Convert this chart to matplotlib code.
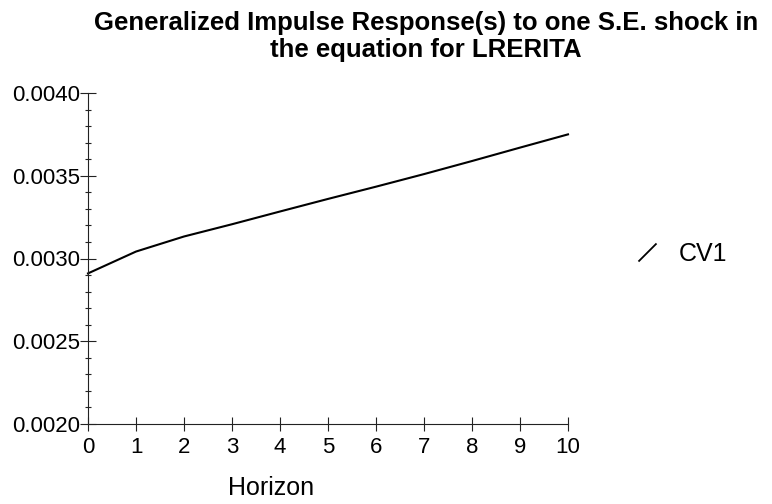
import matplotlib
matplotlib.use("Agg")
import matplotlib.pyplot as plt
from matplotlib.lines import Line2D
from matplotlib.ticker import MultipleLocator, FormatStrFormatter

# --- data ---
horizon = [0, 1, 2, 3, 4, 5, 6, 7, 8, 9, 10]
cv1 = [0.00291, 0.003042, 0.003133, 0.003207, 0.003284, 0.00336,
       0.003434, 0.00351, 0.003589, 0.00367, 0.00375]
series_name = "CV1"
title_text = "Generalized Impulse Response(s) to one S.E. shock in\nthe equation for LRERITA"
x_label = "Horizon"

plt.rcParams['font.family'] = ['Liberation Sans', 'DejaVu Sans']

W, H = 772, 504
fig = plt.figure(figsize=(W / 100, H / 100), dpi=100)
ax = fig.add_axes([88 / W, 80 / H, 480 / W, 331 / H])

ax.plot(horizon, cv1, color='black', lw=1.5, clip_on=False)

ax.set_xlim(0, 10)
ax.set_ylim(0.0020, 0.0040)
ax.xaxis.set_major_locator(MultipleLocator(1))
ax.yaxis.set_major_locator(MultipleLocator(0.0005))
ax.yaxis.set_minor_locator(MultipleLocator(0.0001))
ax.yaxis.set_major_formatter(FormatStrFormatter('%.4f'))

for side in ('top', 'right'):
    ax.spines[side].set_visible(False)
for side in ('left', 'bottom'):
    ax.spines[side].set_linewidth(0.8)
    ax.spines[side].set_color('#222222')

ax.tick_params(axis='y', which='major', direction='inout', length=12,
               width=0.8, pad=0, labelsize=16, color='#222222')
ax.tick_params(axis='y', which='minor', direction='inout', length=5,
               width=0.8, color='#222222')
ax.tick_params(axis='x', which='major', direction='inout', length=9.5,
               width=0.8, pad=4.5, labelsize=16, color='#222222')

fig.text(271 / W, 9 / H, x_label, ha='center', va='baseline', fontsize=18)

fig.suptitle(title_text, x=426 / W, y=1 - 36.5 / H, ha='center', va='center',
             fontsize=18.5, fontweight='bold', linespacing=1.2)

slash = [(-1, -1), (1, 1)]
handle = Line2D([], [], color='black', lw=1.3, marker=slash, markersize=13,
                linestyle='None', markeredgewidth=1.3)
fig.legend([handle], [series_name], loc='center left',
           bbox_to_anchor=(634 / W, 1 - 254 / H), frameon=False, fontsize=18,
           handlelength=1.0, handletextpad=0.8, borderpad=0, borderaxespad=0)

fig.savefig("out.png", dpi=100)
